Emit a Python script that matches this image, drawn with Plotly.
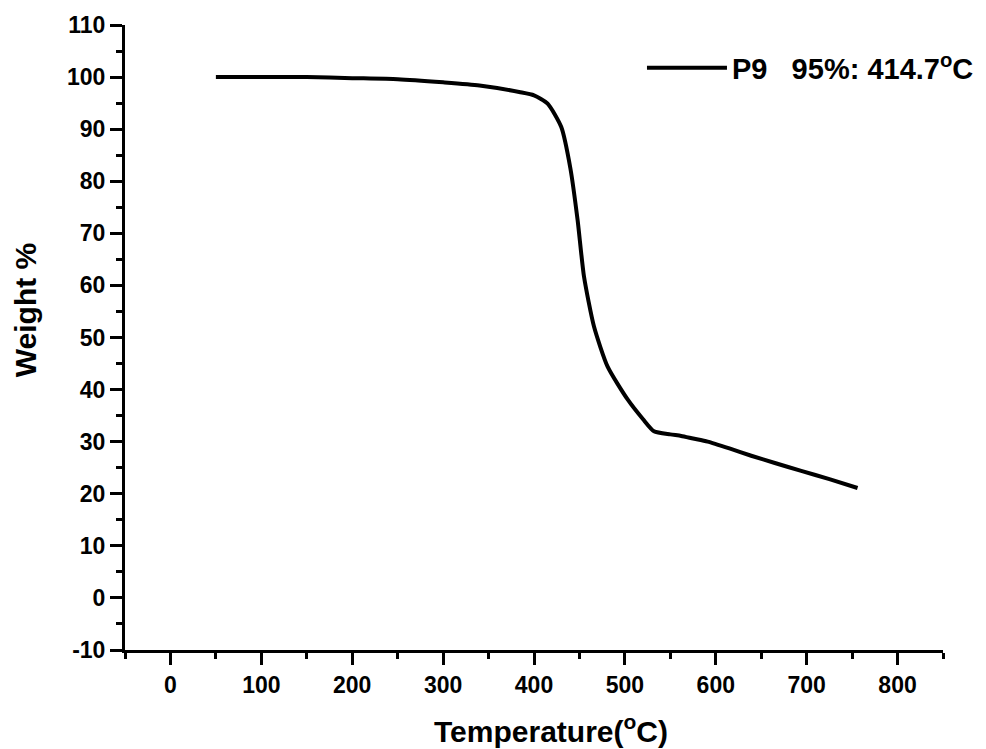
import plotly.graph_objects as go

temperature = [50, 100, 150, 200, 250, 300, 340, 385, 400, 415, 430, 440, 448, 455,
               466, 481, 503, 520, 532, 550, 562, 575, 591, 615, 639, 665, 694, 725, 756]
weight = [100.0, 100.0, 100.0, 99.8, 99.6, 99.0, 98.4, 97.1, 96.5, 94.9, 90.4, 82.5, 72.5, 61.7,
          52.1, 44.4, 38.1, 34.3, 32.0, 31.4, 31.1, 30.6, 30.0, 28.7, 27.3, 25.9, 24.4, 22.8, 21.1]
series_name = "P9&nbsp;&nbsp;&nbsp;95%: 414.7<sup>o</sup>C"
x_title = "Temperature(<sup>o</sup>C)"
y_title = "Weight %"

x_ticks = [0, 100, 200, 300, 400, 500, 600, 700, 800]
y_ticks = [-10, 0, 10, 20, 30, 40, 50, 60, 70, 80, 90, 100, 110]

FONT = "Arial, 'Liberation Sans', sans-serif"

fig = go.Figure()
fig.add_trace(go.Scatter(
    x=temperature, y=weight, mode="lines", name=series_name,
    line=dict(color="black", width=4, shape="spline", smoothing=0.6),
))

axis_common = dict(
    showline=True, linecolor="black", linewidth=3,
    ticks="outside", ticklen=12, tickwidth=3, tickcolor="black",
    showgrid=False, zeroline=False, mirror=False, automargin=False,
    tickfont=dict(family=FONT, size=23, color="black", weight="bold"),
)

fig.update_xaxes(
    range=[-50, 850], tickvals=x_ticks, ticktext=[str(v) for v in x_ticks],
    minor=dict(ticks="outside", ticklen=6, tickwidth=3, tickcolor="black", dtick=50, tick0=-50, showgrid=False),
    **axis_common,
)
fig.update_yaxes(
    range=[-10, 110], tickvals=y_ticks, ticktext=[str(v) for v in y_ticks],
    minor=dict(ticks="outside", ticklen=6, tickwidth=3, tickcolor="black", dtick=10, tick0=-5, showgrid=False),
    **axis_common,
)

title_font = dict(family=FONT, size=30, color="black", weight="bold")
fig.add_annotation(text=x_title, xref="paper", yref="paper", x=0.521, y=-0.126,
                   xanchor="center", yanchor="middle", showarrow=False, font=title_font)
fig.add_annotation(text=y_title, xref="paper", yref="paper", x=-0.122, y=0.544,
                   xanchor="center", yanchor="middle", showarrow=False, textangle=-90, font=title_font)

fig.update_layout(
    width=986, height=749,
    margin=dict(l=117, r=51, t=17, b=107),
    plot_bgcolor="white", paper_bgcolor="white",
    showlegend=True,
    legend=dict(
        x=0.632, y=0.972, xanchor="left", yanchor="top",
        bgcolor="rgba(0,0,0,0)", borderwidth=0,
        font=dict(family=FONT, size=29, color="black", weight="bold"),
        itemwidth=80,
    ),
)

fig.write_html("out.html")
